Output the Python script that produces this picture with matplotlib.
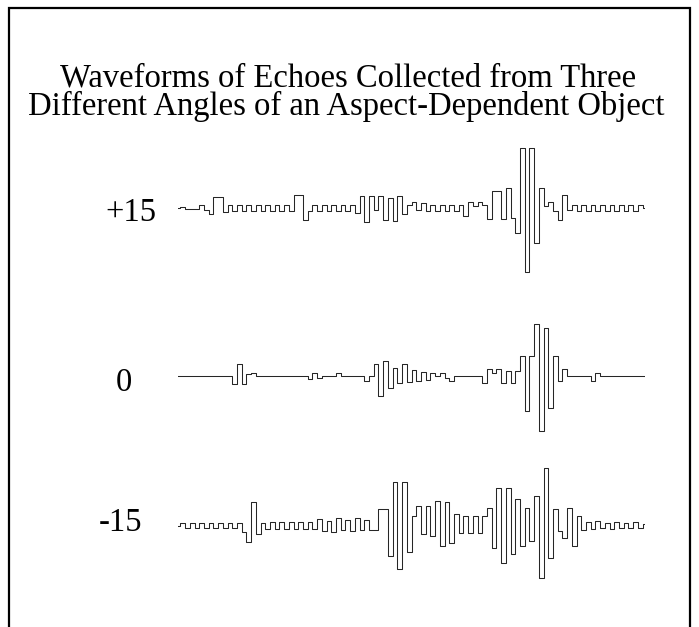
import matplotlib.pyplot as plt
from matplotlib.patches import Rectangle

# chart text
title_lines = ['Waveforms of Echoes Collected from Three',
               'Different Angles of an Aspect-Dependent Object']
angle_labels = ['+15', '0', '-15']

# echo amplitudes (sampled, 100 samples per echo)
echo_p15 = [0, 1, -1, -1, -1, 3, -2, -6, 11, 11,
            -4, 3, -3, 3, -3, 3, -3, 3, -3, 3,
            -3, 3, -3, 3, -3, 13, 13, -12, -3, 3,
            -3, 3, -3, 3, -3, 3, -3, 3, -5, 12,
            -14, 12, -2, 12, -12, 10, -13, 12, -6, 3,
            6, -2, 5, -3, 3, -3, 3, -3, 3, -3,
            3, -8, 6, 2, 6, 3, -11, 17, 17, -11,
            20, -10, -25, 60, -64, 60, -35, 20, 2, 6,
            -3, -12, 13, -2, 3, -3, 3, -3, 3, -3,
            3, -3, 3, -3, 3, -3, 3, -3, 3, 0]
echo_0 = [0, 0, 0, 0, 0, 0, 0, 0, 0, 0,
          0, 0, -8, 12, -8, 2, 3, 0, 0, 0,
          0, 0, 0, 0, 0, 0, 0, 0, -3, 3,
          -2, 0, 0, 0, 3, 0, 0, 0, 0, 0,
          -5, 0, 12, -20, 15, -12, 8, -7, 12, -6,
          6, -5, 4, -4, 3, 0, 3, -2, -5, 0,
          0, 0, 0, 0, 0, -7, 7, 3, 7, -7,
          5, -7, 5, 20, -35, 20, 52, -55, 48, -32,
          20, -5, 7, 0, 0, 0, 0, 0, -5, 3,
          0, 0, 0, 0, 0, 0, 0, 0, 0, 0]
echo_m15 = [0, 3, -2, 3, -2, 3, -2, 3, -2, 3,
            -2, 3, -2, 3, -6, -16, 24, -8, 3, -3,
            4, -3, 4, -3, 4, -3, 4, -3, 4, -3,
            7, -5, 5, -6, 8, -4, 6, -5, 8, -4,
            6, -4, -4, 17, 17, -30, 44, -43, 44, -26,
            10, 20, -8, 20, -10, 25, -20, 24, -17, 12,
            -7, 10, -7, 10, -7, 10, 18, -22, 38, -37,
            38, -28, 27, -20, 18, -15, 30, -52, 58, -32,
            17, -5, -12, 18, -20, 10, -4, 4, -3, 5,
            -2, 3, -3, 4, -2, 3, -2, 4, -2, 2]
echoes = [echo_p15, echo_0, echo_m15]

W, H = 699, 627
fig = plt.figure(figsize=(W / 100, H / 100), dpi=100)
plt.rcParams['font.family'] = ['Liberation Serif', 'DejaVu Serif']

# frame round the figure (bottom edge is cut off in the original)
fig.add_artist(Rectangle((9 / W, -0.05), (690 - 9) / W, 1.05 - 8 / H,
                         transform=fig.transFigure, fill=False,
                         edgecolor='black', linewidth=1.6))

# title, two lines
fig.text(348 / W, 1 - 78 / H, title_lines[0], ha='center', va='center', fontsize=23.5)
fig.text(346 / W, 1 - 106 / H, title_lines[1], ha='center', va='center', fontsize=23.5)

baselines = [208, 376, 526]   # pixel rows of each echo
label_x = [131, 124, 121]
label_y = [213, 383, 523]
for echo, label, base, lx, ly in zip(echoes, angle_labels, baselines, label_x, label_y):
    ax = fig.add_axes([178 / W, 1 - (base + 70) / H, (645 - 178) / W, 140 / H])
    ax.plot(range(len(echo)), echo, drawstyle='steps-mid', color='#262626', linewidth=0.75)
    ax.set_xlim(0, len(echo) - 1)
    ax.set_ylim(-70, 70)
    ax.axis('off')
    fig.text(lx / W, 1 - ly / H, label, ha='center', va='center', fontsize=23.5)

plt.savefig('out.png', dpi=100)
